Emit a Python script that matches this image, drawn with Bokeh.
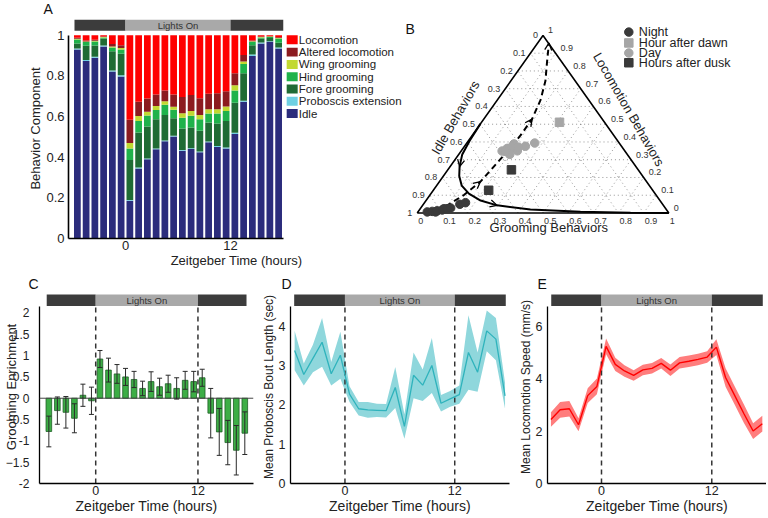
import numpy as np
from bokeh.plotting import figure
from bokeh.models import (ColumnDataSource, FixedTicker, Range1d, Label, Whisker,
                          TeeHead, Arrow, OpenHead, Span)
from bokeh.layouts import row, column
from bokeh.embed import file_html
from bokeh.resources import INLINE
from bokeh.core.properties import value

# ---------------------------------------------------------------- data
HOURS = [-5.5, -4.5, -3.5, -2.5, -1.5, -0.5, 0.5, 1.5, 2.5, 3.5, 4.5, 5.5,
         6.5, 7.5, 8.5, 9.5, 10.5, 11.5, 12.5, 13.5, 14.5, 15.5, 16.5, 17.5]
LIGHTS_ON = 0
LIGHTS_OFF = 12
X_TICKS = [0, 12]

# Panel A: behaviour composition per hour (stack order bottom -> top)
BEHAVIORS = ["Idle", "Proboscis extension", "Fore grooming", "Hind grooming",
             "Wing grooming", "Altered locomotion", "Locomotion"]
BEHAVIOR_COLORS = ["#2b2c7c", "#6fd0e2", "#1f6b34", "#1fb24b",
                   "#c2d932", "#8c1b1f", "#ff0000"]
IDLE = [0.93, 0.874, 0.89, 0.945, 0.822, 0.798, 0.186, 0.345, 0.39, 0.439, 0.479, 0.502,
        0.432, 0.44, 0.424, 0.474, 0.45, 0.443, 0.515, 0.673, 0.898, 0.96, 0.968, 0.935]
PROBOSCIS = [0.005, 0.005, 0.005, 0.005, 0.005, 0.006, 0.004, 0.004, 0.004, 0.004, 0.004, 0.004,
             0.004, 0.004, 0.004, 0.004, 0.005, 0.005, 0.006, 0.005, 0.008, 0.005, 0.003, 0.005]
FORE = [0.025, 0.07, 0.055, 0.034, 0.095, 0.105, 0.196, 0.173, 0.157, 0.144, 0.125, 0.086,
        0.106, 0.103, 0.103, 0.093, 0.111, 0.131, 0.147, 0.136, 0.045, 0.019, 0.016, 0.024]
HIND = [0.02, 0.018, 0.02, 0.006, 0.018, 0.021, 0.057, 0.057, 0.054, 0.046, 0.051, 0.042,
        0.053, 0.057, 0.056, 0.044, 0.049, 0.049, 0.06, 0.045, 0.017, 0.006, 0.005, 0.02]
WING = [0.003, 0.003, 0.003, 0.002, 0.005, 0.008, 0.027, 0.024, 0.019, 0.019, 0.017, 0.015,
        0.022, 0.024, 0.021, 0.021, 0.021, 0.022, 0.026, 0.012, 0.003, 0.002, 0.002, 0.003]
ALT_LOCO = [0.005, 0.005, 0.005, 0.003, 0.013, 0.013, 0.115, 0.07, 0.065, 0.057, 0.052, 0.06,
            0.079, 0.078, 0.083, 0.076, 0.079, 0.075, 0.06, 0.032, 0.004, 0.003, 0.002, 0.004]
LOCO = [0.012, 0.025, 0.022, 0.005, 0.042, 0.049, 0.415, 0.327, 0.311, 0.291, 0.272, 0.291,
        0.304, 0.294, 0.309, 0.288, 0.285, 0.275, 0.186, 0.097, 0.025, 0.005, 0.004, 0.009]

# Panel B: ternary coordinates (grooming fraction, locomotion fraction)
NIGHT_G = [0.037, 0.055, 0.07, 0.073, 0.091, 0.094, 0.107, 0.119, 0.145, 0.163]
NIGHT_L = [0.006, 0.009, 0.006, 0.012, 0.017, 0.024, 0.024, 0.028, 0.049, 0.058]
DAWN_G = [0.31]
DAWN_L = [0.511]
DAY_G = [0.163, 0.176, 0.19, 0.203, 0.223, 0.203, 0.242, 0.27, 0.19, 0.177, 0.218]
DAY_L = [0.349, 0.364, 0.389, 0.369, 0.350, 0.330, 0.376, 0.394, 0.375, 0.347, 0.37]
DUSK_G = [0.253, 0.22]
DUSK_L = [0.243, 0.128]
SOLID_G = [0.0, 0.005, 0.014, 0.038, 0.063, 0.10, 0.151, 0.217, 0.296, 0.44, 0.645, 0.847, 1.0]
SOLID_L = [0.502, 0.407, 0.330, 0.261, 0.208, 0.154, 0.109, 0.070, 0.043, 0.020, 0.0076, 0.0015, 0.0]
DASH_G = [0.094, 0.135, 0.163, 0.174, 0.185, 0.192, 0.192, 0.172, 0.138, 0.091, 0.045]
DASH_L = [0.037, 0.101, 0.177, 0.261, 0.346, 0.437, 0.529, 0.636, 0.743, 0.850, 0.957]
TERN_TICKS = [0, 0.1, 0.2, 0.3, 0.4, 0.5, 0.6, 0.7, 0.8, 0.9, 1]
TERN_TICK_LABELS = ["0", "0.1", "0.2", "0.3", "0.4", "0.5", "0.6", "0.7", "0.8", "0.9", "1"]

# Panel C: grooming enrichment (mean, error)
ENRICH = [-0.78, -0.29, -0.33, -0.47, 0.07, -0.06, 0.92, 0.66, 0.57, 0.5, 0.44, 0.23,
          0.39, 0.27, 0.34, 0.23, 0.42, 0.39, 0.48, -0.35, -0.79, -1.04, -1.22, -0.82]
ENRICH_ERR = [0.36, 0.32, 0.37, 0.34, 0.26, 0.32, 0.2, 0.28, 0.22, 0.2, 0.19, 0.17,
              0.23, 0.2, 0.2, 0.25, 0.21, 0.24, 0.2, 0.58, 0.55, 0.52, 0.58, 0.5]

# Panel D: mean proboscis bout length (sec)
BOUT = [3.38, 2.77, 3.18, 3.59, 2.79, 3.26, 2.27, 1.90, 1.87, 1.86, 1.85, 2.44,
        1.45, 2.75, 2.50, 3.0, 2.04, 2.15, 2.26, 3.33, 2.83, 3.88, 3.67, 2.23]
BOUT_ERR = [0.5, 0.28, 0.35, 0.62, 0.3, 0.6, 0.2, 0.17, 0.2, 0.17, 0.17, 0.52,
            0.31, 0.58, 0.4, 0.7, 0.21, 0.2, 0.23, 0.95, 0.5, 0.52, 0.54, 0.33]

# Panel E: mean locomotion speed (mm/s)
SPEED = [2.44, 2.81, 2.85, 2.24, 3.35, 3.70, 5.23, 4.54, 4.29, 4.12, 4.33, 4.39,
         4.58, 4.32, 4.6, 4.66, 4.73, 4.82, 5.2, 4.04, 3.35, 2.66, 2.0, 2.28]
SPEED_ERR = [0.28, 0.3, 0.3, 0.25, 0.28, 0.3, 0.3, 0.25, 0.22, 0.2, 0.2, 0.2,
             0.2, 0.22, 0.22, 0.22, 0.22, 0.22, 0.3, 0.35, 0.35, 0.35, 0.3, 0.3]

# ---------------------------------------------------------------- style
FONT = "Liberation Sans"
TXT = "#222222"
DARK = "#3c3c3c"
LIGHT = "#a9a9a9"


def style_axes(p, lw):
    for ax in p.axis:
        ax.axis_line_width = lw
        ax.axis_line_color = "black"
        ax.major_tick_in = 0
        ax.major_tick_out = 0
        ax.minor_tick_in = 0
        ax.minor_tick_out = 0
        ax.major_label_text_font = FONT
        ax.axis_label_text_font = FONT
        ax.axis_label_text_font_style = "normal"
        ax.major_label_text_color = TXT
        ax.axis_label_text_color = TXT
        ax.major_label_standoff = 2
        ax.axis_label_standoff = 0
    p.grid.visible = False
    p.outline_line_color = None


def add_header(p, left_edge, right_edge, bottom, top):
    p.quad(left=[left_edge, LIGHTS_ON, LIGHTS_OFF], right=[LIGHTS_ON, LIGHTS_OFF, right_edge],
           bottom=bottom, top=top, fill_color=[DARK, LIGHT, DARK], line_color=None)
    p.text(x=[(LIGHTS_ON + LIGHTS_OFF) / 2], y=[(bottom + top) / 2], text=["Lights On"],
           text_font=value(FONT), text_font_size="9.5px", text_align="center",
           text_baseline="middle", text_color="#333333")


def panel_title(p, letter, offset, standoff, valign="bottom"):
    p.title.text = letter
    p.title.align = "left"
    p.title.vertical_align = valign
    p.title.offset = offset
    p.title.standoff = standoff
    p.title.text_font = FONT
    p.title.text_font_size = "14px"
    p.title.text_font_style = "normal"
    p.title.text_color = "#111111"


# ---------------------------------------------------------------- Panel A
pA = figure(width=404, height=270, x_range=Range1d(-6.514, 31.886), y_range=Range1d(0, 1.083),
            output_backend="svg", toolbar_location=None,
            min_border_left=68, min_border_right=0, min_border_top=16, min_border_bottom=32)
srcA = ColumnDataSource(dict(x=HOURS, **dict(zip(BEHAVIORS, [IDLE, PROBOSCIS, FORE, HIND, WING,
                                                               ALT_LOCO, LOCO]))))
pA.vbar_stack(BEHAVIORS, x="x", width=0.77, fill_color=BEHAVIOR_COLORS, line_color=None,
              source=srcA)
add_header(pA, -5.83, 18.03, 1.023, 1.0766)
style_axes(pA, 1.6)
pA.xaxis.bounds = (-6.514, 18.03)
pA.yaxis.bounds = (0, 1)
pA.xaxis.ticker = FixedTicker(ticks=X_TICKS)
pA.yaxis.ticker = FixedTicker(ticks=[0, 0.2, 0.4, 0.6, 0.8, 1])
pA.yaxis.major_label_overrides = {0: "0", 1: "1"}
pA.yaxis.major_label_standoff = 4
pA.xaxis.axis_label = "Zeitgeber Time (hours)"
pA.yaxis.axis_label = "Behavior Component"
for ax in pA.axis:
    ax.major_label_text_font_size = "13px"
    ax.axis_label_text_font_size = "13px"
# legend for A
leg_names = BEHAVIORS[::-1]
leg_colors = BEHAVIOR_COLORS[::-1]
leg_y = [0.978 - 0.0605 * k for k in range(len(leg_names))]
pA.rect(x=19.05, y=leg_y, width=1.257, height=0.044, fill_color=leg_colors, line_color=None)
pA.text(x=19.80, y=leg_y, text=leg_names, text_font=value(FONT), text_font_size="11.5px",
        text_baseline="middle", text_align="left", text_color=TXT)
panel_title(pA, "A", -25, 0, "top")

# ---------------------------------------------------------------- Panel B (ternary)
SQ3 = np.sqrt(3) / 2


def tern(g, l):
    g = np.asarray(g, dtype=float)
    l = np.asarray(l, dtype=float)
    return g + l / 2, l * SQ3


pB = figure(width=362, height=270, x_range=Range1d(-0.0505, 1.3883), y_range=Range1d(-0.1244, 0.9487),
            output_backend="svg", toolbar_location=None, min_border=0,
            x_axis_location=None, y_axis_location=None)
pB.grid.visible = False
pB.outline_line_color = None

# dotted grid
gx, gy = [], []
for v in TERN_TICKS[1:-1]:
    for (g0, l0, g1, l1) in [(v, 0, v, 1 - v), (0, v, 1 - v, v), (1 - v, 0, 0, 1 - v)]:
        xs, ys = tern([g0, g1], [l0, l1])
        gx.append(list(xs))
        gy.append(list(ys))
pB.multi_line(gx, gy, line_color="#8a8a8a", line_width=0.9, line_dash="1 3")
# triangle
tx, ty = tern([0, 1, 0, 0], [0, 0, 1, 0])
pB.line(tx, ty, line_color="black", line_width=1.6)

# tick labels
tk = np.asarray(TERN_TICKS)
lx, ly = tern(np.zeros_like(tk), 1 - tk)           # idle axis on left edge
pB.text(x=lx, y=ly, text=TERN_TICK_LABELS, text_font=value(FONT), text_font_size="9px",
        text_align="right", text_baseline="middle", x_offset=-5, text_color="#333333")
rx, ry = tern(1 - tk, tk)                          # locomotion axis on right edge
pB.text(x=rx, y=ry, text=TERN_TICK_LABELS, text_font=value(FONT), text_font_size="9px",
        text_align="left", text_baseline="middle", x_offset=5, y_offset=-5, text_color="#333333")
bx, by = tern(tk, np.zeros_like(tk))               # grooming axis on bottom edge
pB.text(x=bx, y=by, text=TERN_TICK_LABELS, text_font=value(FONT), text_font_size="9px",
        text_align="left", text_baseline="top", x_offset=1, y_offset=5, text_color="#333333")

# axis titles
pB.text(x=[0.523], y=[-0.0715], text=["Grooming Behaviors"], text_font=value(FONT),
        text_font_size="13px", text_align="center", text_baseline="middle", text_color=TXT)
pB.text(x=[0.152], y=[0.465], text=["Idle Behaviors"], angle=np.pi / 3, text_font=value(FONT),
        text_font_size="13px", text_align="center", text_baseline="middle", text_color=TXT)
pB.text(x=[0.841], y=[0.505], text=["Locomotion Behaviors"], angle=-np.pi / 3,
        text_font=value(FONT), text_font_size="13px", text_align="center",
        text_baseline="middle", text_color=TXT)

# trajectory curves
sx, sy = tern(SOLID_G, SOLID_L)
pB.line(sx, sy, line_color="black", line_width=2)
dx, dy = tern(DASH_G, DASH_L)
pB.line(dx, dy, line_color="black", line_width=2, line_dash="6 4")
for (cx, cy, i, j) in [(dx, dy, 1, 2), (dx, dy, 5, 6), (dx, dy, 9, 10), (sx, sy, 2, 3), (sx, sy, 7, 8)]:
    pB.add_layout(Arrow(end=OpenHead(size=7, line_width=1.3, line_color="black"),
                        x_start=cx[i], y_start=cy[i], x_end=cx[j], y_end=cy[j], line_alpha=0))

# points
NIGHT_C = "#3a3a3a"
DAY_C = "#a6a6a6"
nx, ny = tern(NIGHT_G, NIGHT_L)
pB.scatter(nx, ny, marker="circle", size=8.5, fill_color=NIGHT_C, line_color=NIGHT_C)
ax_, ay_ = tern(DAY_G, DAY_L)
pB.scatter(ax_, ay_, marker="circle", size=8.5, fill_color=DAY_C, line_color=DAY_C)
wx, wy = tern(DAWN_G, DAWN_L)
pB.scatter(wx, wy, marker="square", size=8.5, fill_color=DAY_C, line_color=DAY_C)
kx, ky = tern(DUSK_G, DUSK_L)
pB.scatter(kx, ky, marker="square", size=8.5, fill_color=NIGHT_C, line_color=NIGHT_C)

# legend for B
leg_b_labels = ["Night", "Hour after dawn", "Day", "Hours after dusk"]
leg_b_markers = ["circle", "square", "circle", "square"]
leg_b_colors = [NIGHT_C, DAY_C, DAY_C, NIGHT_C]
leg_b_y = [0.8824, 0.8295, 0.7806, 0.7329]
for lab, mk, col, yy in zip(leg_b_labels, leg_b_markers, leg_b_colors, leg_b_y):
    pB.scatter([0.841], [yy], marker=mk, size=8.5, fill_color=col, line_color=col)
pB.text(x=0.881, y=leg_b_y, text=leg_b_labels, text_font=value(FONT), text_font_size="12.5px",
        text_align="left", text_baseline="middle", text_color=TXT)
pB.add_layout(Label(x=-0.047, y=0.9368, text="B", text_font=FONT, text_font_size="14px",
                    text_baseline="top", text_align="left", text_color="#111111"))


# ---------------------------------------------------------------- bottom panels
def bottom_fig(width, border_left, border_right, xr, yr):
    p = figure(width=width, height=246, x_range=Range1d(*xr), y_range=Range1d(*yr),
               output_backend="svg", toolbar_location=None,
               min_border_left=border_left, min_border_right=border_right,
               min_border_top=20, min_border_bottom=31)
    return p


def finish_bottom(p, ybounds, yticks, ylabel, ylabel_size, xr, head_edges, head_y):
    style_axes(p, 1.3)
    p.xaxis.bounds = xr
    p.yaxis.bounds = ybounds
    p.xaxis.ticker = FixedTicker(ticks=X_TICKS)
    p.yaxis.ticker = FixedTicker(ticks=yticks)
    p.xaxis.axis_label = "Zeitgeber Time (hours)"
    p.yaxis.axis_label = ylabel
    p.xaxis.axis_label_text_font_size = "14px"
    p.yaxis.axis_label_text_font_size = ylabel_size
    p.yaxis.major_label_standoff = 5
    for ax in p.axis:
        ax.major_label_text_font_size = "12.5px"
    add_header(p, head_edges[0], head_edges[1], head_y[0], head_y[1])
    p.segment(x0=[LIGHTS_ON, LIGHTS_OFF], y0=ybounds[0], x1=[LIGHTS_ON, LIGHTS_OFF], y1=ybounds[1],
              line_color="#333333", line_width=1.5, line_dash="5 4")


# Panel C
xrC = (-6.597, 18.52)
pC = bottom_fig(258, 36, 5, xrC, (-2, 2.527))
pC.add_layout(Span(location=0, dimension="width", line_color="#444444", line_width=1))
srcC = ColumnDataSource(dict(x=HOURS, y=ENRICH,
                             upper=[m + e for m, e in zip(ENRICH, ENRICH_ERR)],
                             lower=[m - e for m, e in zip(ENRICH, ENRICH_ERR)]))
pC.vbar(x="x", top="y", bottom=0, width=0.66, fill_color="#3dae46", line_color="#1d5e24",
        line_width=0.8, source=srcC)
wh = Whisker(base="x", upper="upper", lower="lower", source=srcC, line_color="#2a2a2a",
             line_width=1, level="overlay",
             upper_head=TeeHead(size=5, line_color="#2a2a2a", line_width=1),
             lower_head=TeeHead(size=5, line_color="#2a2a2a", line_width=1))
pC.add_layout(wh)
finish_bottom(pC, (-2, 2.162), [-2, -1.5, -1, -0.5, 0, 0.5, 1, 1.5, 2], "Grooming Enrichment",
              "13px", xrC, (-5.75, 17.7), (2.162, 2.434))
pC.yaxis.major_label_overrides = {-2: "-2", -1: "-1", 0: "0", 1: "1", 2: "2"}
pC.yaxis.major_label_text_font_size = "12px"
pC.yaxis.major_label_standoff = 10
pC.yaxis.axis_label_standoff = -16
panel_title(pC, "C", -11, -3)

# Panel D
xrD = (-5.952, 17.987)
pD = bottom_fig(257, 31, 6, xrD, (0, 4.906))
pD.varea(x=HOURS, y1=[m - e for m, e in zip(BOUT, BOUT_ERR)],
         y2=[m + e for m, e in zip(BOUT, BOUT_ERR)], fill_color="#8fd7dc")
finish_bottom(pD, (0, 4.511), [0, 1, 2, 3, 4], "Mean Proboscis Bout Length (sec)", "12px",
              xrD, (-5.55, 17.58), (4.511, 4.805))
pD.line(HOURS, BOUT, line_color="#2fb3bc", line_width=1.3)
panel_title(pD, "D", -9, -3)

# Panel E
xrE = (-5.876, 17.954)
pE = bottom_fig(251, 32, 0, xrE, (0, 7.358))
pE.varea(x=HOURS, y1=[m - e for m, e in zip(SPEED, SPEED_ERR)],
         y2=[m + e for m, e in zip(SPEED, SPEED_ERR)], fill_color="#ff7d7d")
finish_bottom(pE, (0, 6.766), [0, 2, 4, 6], "Mean Locomotion Speed (mm/s)", "12px",
              xrE, (-5.47, 17.55), (6.766, 7.208))
pE.line(HOURS, SPEED, line_color="#ff0000", line_width=1.4)
panel_title(pE, "E", -10, -3)

layout = column(row(pA, pB), row(pC, pD, pE))
open("out.html", "w").write(file_html(layout, INLINE))
